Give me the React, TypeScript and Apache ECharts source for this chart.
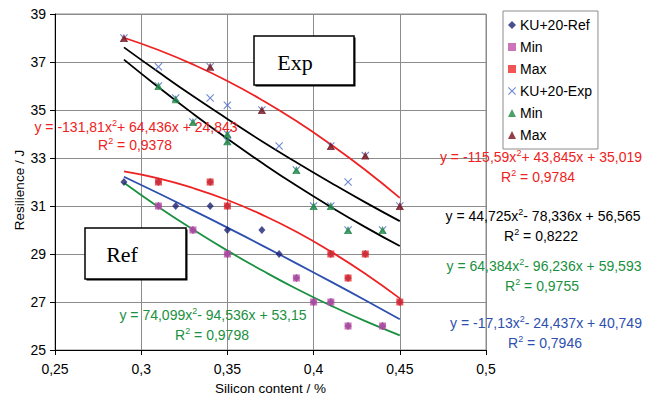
import React, { useEffect, useRef } from "react";
import * as echarts from "echarts";

// ---- data ----
const xTicks = [0.25, 0.3, 0.35, 0.4, 0.45, 0.5];
const yTicks = [25, 27, 29, 31, 33, 35, 37, 39];

// Ref group: all individual specimens (diamonds), minima (magenta squares), maxima (red squares)
const refAll: [number, number][] = [
  [0.29, 32], [0.31, 32], [0.31, 31], [0.32, 31], [0.33, 30], [0.34, 32], [0.34, 31],
  [0.35, 31], [0.35, 30], [0.35, 29], [0.37, 30], [0.38, 29], [0.39, 28], [0.4, 27],
  [0.41, 29], [0.41, 27], [0.42, 28], [0.42, 26], [0.43, 29], [0.44, 26], [0.45, 27],
];
const refMin: [number, number][] = [
  [0.31, 31], [0.33, 30], [0.35, 29], [0.39, 28], [0.4, 27], [0.41, 27], [0.42, 26], [0.44, 26],
];
const refMax: [number, number][] = [
  [0.31, 32], [0.34, 32], [0.35, 31], [0.41, 29], [0.42, 28], [0.43, 29], [0.45, 27],
];

// Exp group
const expAll: [number, number][] = [
  [0.29, 38], [0.31, 36.8], [0.31, 36], [0.32, 35.5], [0.33, 34.5], [0.34, 36.8], [0.34, 35.5],
  [0.35, 35.2], [0.35, 34], [0.35, 33.7], [0.37, 35], [0.38, 33.5], [0.39, 32.5], [0.4, 31],
  [0.41, 33.5], [0.41, 31], [0.42, 32], [0.42, 30], [0.43, 33.1], [0.44, 30], [0.45, 31],
];
const expMin: [number, number][] = [
  [0.31, 36], [0.32, 35.45], [0.33, 34.5], [0.35, 34], [0.35, 33.7], [0.39, 32.5],
  [0.4, 31], [0.41, 31], [0.42, 30], [0.44, 30],
];
const expMax: [number, number][] = [
  [0.29, 38], [0.34, 36.8], [0.37, 35], [0.41, 33.5], [0.43, 33.1], [0.45, 31],
];

// Trendlines, values
const trendX = [0.29, 0.31, 0.33, 0.35, 0.37, 0.39, 0.41, 0.43, 0.45];
const trendExpMax = [38.01, 37.5, 36.9, 36.21, 35.42, 34.54, 33.56, 32.5, 31.34];
const trendExp = [37.61, 36.58, 35.58, 34.63, 33.7, 32.82, 31.97, 31.15, 30.37];
const trendExpMin = [37.1, 35.95, 34.85, 33.8, 32.8, 31.85, 30.96, 30.12, 29.33];
const trendRefMax = [32.44, 32.15, 31.75, 31.25, 30.64, 29.93, 29.1, 28.18, 27.15];
const trendRef = [32.22, 31.53, 30.82, 30.1, 29.36, 28.61, 27.85, 27.07, 26.28];
const trendRefMin = [31.97, 30.96, 30.02, 29.14, 28.32, 27.55, 26.85, 26.2, 25.61];

const legendNames = ["KU+20-Ref", "Min (Ref)", "Max (Ref)", "KU+20-Exp", "Min (Exp)", "Max (Exp)"];

// equation labels: [before x², after x², R²]
const eqRefMax = ["y = -131,81x", "+ 64,436x + 24,843", "0,9378"];
const eqExpMax = ["y = -115,59x", "+ 43,845x + 35,019", "0,9784"];
const eqExp = ["y = 44,725x", "- 78,336x + 56,565", "0,8222"];
const eqExpMin = ["y = 64,384x", "- 96,236x + 59,593", "0,9755"];
const eqRef = ["y = -17,13x", "- 24,437x + 40,749", "0,7946"];
const eqRefMin = ["y = 74,099x", "- 94,536x + 53,15", "0,9798"];

const C = {
  navy: "#1c2273",
  magenta: "#c050a8",
  red: "#ee2a2a",
  xblue: "#4a6cc8",
  green: "#1e8a40",
  maroon: "#7a1018",
  lineRed: "#ee2222",
  lineBlue: "#2d4fae",
  lineGreen: "#1a9040",
  eqGreen: "#1a9040",
  eqBlue: "#2d4fae",
};

const FONT = "'Liberation Sans', Arial, sans-serif";
const X_PATH = "path://M0,1L1,0L5,4L9,0L10,1L6,5L10,9L9,10L5,6L1,10L0,9L4,5Z";

function eqText(eq: string[], color: string, cx: number, cy: number, rx: number, ry: number) {
  const rich = {
    n: { fontSize: 14, fontFamily: FONT, fill: color, lineHeight: 16, verticalAlign: "bottom" },
    s: { fontSize: 9, fontFamily: FONT, fill: color, lineHeight: 9, verticalAlign: "top" },
  };
  return [
    {
      type: "text",
      x: cx,
      y: cy,
      z: 100,
      style: {
        text: `{n|${eq[0]}}{s|2}{n|${eq[1]}}`,
        rich,
        align: "center",
        verticalAlign: "middle",
      },
    },
    {
      type: "text",
      x: rx,
      y: ry,
      z: 100,
      style: {
        text: `{n|R}{s|2}{n| = ${eq[2]}}`,
        rich,
        align: "center",
        verticalAlign: "middle",
      },
    },
  ];
}

function labelBox(x: number, y: number, w: number, h: number, label: string, tx: number, ty: number) {
  return [
    { type: "rect", z: 90, shape: { x: x + 1.5, y: y + 1.5, width: w, height: h }, style: { fill: "#000" } },
    { type: "rect", z: 91, shape: { x, y, width: w, height: h }, style: { fill: "#fff", stroke: "#000", lineWidth: 1.5 } },
    {
      type: "text",
      z: 92,
      x: tx,
      y: ty,
      style: { text: label, fontSize: 22, fontFamily: "'Liberation Serif', 'Times New Roman', serif", fill: "#000", align: "center", verticalAlign: "middle" },
    },
  ];
}

function trend(name: string, ys: number[], color: string) {
  return {
    name,
    type: "line",
    data: trendX.map((x, i) => [x, ys[i]]),
    smooth: true,
    showSymbol: false,
    symbol: "none",
    lineStyle: { color, width: 1.8 },
    z: 1,
    silent: true,
  };
}

export default function App() {
  const ref = useRef<HTMLDivElement>(null);
  useEffect(() => {
    if (!ref.current) return;
    const chart = echarts.init(ref.current, undefined, { renderer: "svg" });
    const option: any = {
      animation: false,
      backgroundColor: "#fff",
      textStyle: { fontFamily: FONT },
      grid: {
        left: 55,
        right: 168,
        top: 14,
        bottom: 46,
        containLabel: false,
        outerBoundsMode: "none",
        show: true,
        borderColor: "#8c8c8c",
        borderWidth: 1,
        backgroundColor: "transparent",
      },
      legend: {
        data: legendNames,
        orient: "vertical",
        left: 503,
        top: 11,
        padding: [7, 6, 7, 5],
        itemGap: 8,
        itemWidth: 8,
        itemHeight: 8,
        borderColor: "#8c8c8c",
        borderWidth: 1,
        backgroundColor: "#fff",
        selectedMode: false,
        textStyle: { fontSize: 14, color: "#000", fontFamily: FONT, padding: [0, 0, 0, -1] },
        formatter: (n: string) => n.replace(/ \(.*\)$/, ""),
      },
      xAxis: {
        type: "value",
        min: xTicks[0],
        max: xTicks[xTicks.length - 1],
        interval: 0.05,
        name: "Silicon content / %",
        nameLocation: "middle",
        nameGap: 31,
        nameTextStyle: { fontSize: 13.5, color: "#000", fontFamily: FONT },
        axisLine: { onZero: false, lineStyle: { color: "#000", width: 1 } },
        axisTick: { show: true, inside: false, length: 5, lineStyle: { color: "#000" } },
        axisLabel: {
          fontSize: 14,
          color: "#000",
          margin: 12,
          formatter: (v: number) => String(Number(v.toFixed(2))).replace(".", ","),
        },
        splitLine: { show: true, lineStyle: { color: "#8c8c8c", width: 1 } },
      },
      yAxis: {
        type: "value",
        min: yTicks[0],
        max: yTicks[yTicks.length - 1],
        interval: 2,
        axisLine: { show: true, onZero: false, lineStyle: { color: "#000", width: 1 } },
        axisTick: { show: true, inside: false, length: 5, lineStyle: { color: "#000" } },
        axisLabel: { fontSize: 14, color: "#000", margin: 9 },
        splitLine: { show: true, lineStyle: { color: "#8c8c8c", width: 1 } },
      },
      series: [
        trend("t-expmax", trendExpMax, C.lineRed),
        trend("t-exp", trendExp, "#000"),
        trend("t-expmin", trendExpMin, "#000"),
        trend("t-refmax", trendRefMax, C.lineRed),
        trend("t-ref", trendRef, C.lineBlue),
        trend("t-refmin", trendRefMin, C.lineGreen),
        {
          name: legendNames[0], type: "scatter", data: refAll, symbol: "diamond", symbolSize: [7, 8],
          itemStyle: { color: C.navy }, z: 3,
        },
        {
          name: legendNames[1], type: "scatter", data: refMin, symbol: "rect", symbolSize: 7,
          itemStyle: { color: C.magenta }, z: 4,
        },
        {
          name: legendNames[2], type: "scatter", data: refMax, symbol: "rect", symbolSize: 7,
          itemStyle: { color: C.red }, z: 5,
        },
        {
          name: legendNames[3], type: "scatter", data: expAll, symbol: X_PATH, symbolSize: 8,
          itemStyle: { color: C.xblue }, z: 6,
        },
        {
          name: legendNames[4], type: "scatter", data: expMin, symbol: "triangle", symbolSize: [8, 8],
          itemStyle: { color: C.green }, z: 7,
        },
        {
          name: legendNames[5], type: "scatter", data: expMax, symbol: "triangle", symbolSize: [8, 8],
          itemStyle: { color: C.maroon }, z: 8,
        },
      ],
      graphic: [
        {
          type: "text",
          x: 19,
          y: 190,
          rotation: Math.PI / 2,
          style: { text: "Resilience / J", fontSize: 13.5, fontFamily: FONT, fill: "#000", align: "center", verticalAlign: "middle" },
        },
        ...labelBox(254, 36, 100, 49, "Exp", 295, 62),
        ...labelBox(85, 228, 101, 51, "Ref", 122, 254),
        ...eqText(eqRefMax, C.lineRed, 136, 126, 135, 144),
        ...eqText(eqExpMax, C.lineRed, 541, 156, 538, 176),
        ...eqText(eqExp, "#000", 543, 215, 541, 235),
        ...eqText(eqExpMin, C.eqGreen, 544, 265, 542, 285),
        ...eqText(eqRef, C.eqBlue, 546, 322, 545, 342),
        ...eqText(eqRefMin, C.eqGreen, 213, 314, 212, 334),
      ],
    };
    chart.setOption(option);
    return () => chart.dispose();
  }, []);
  return (
    <div
      ref={ref}
      style={{ position: "fixed", left: 0, top: 0, width: 654, height: 396, background: "#fff" }}
    />
  );
}
